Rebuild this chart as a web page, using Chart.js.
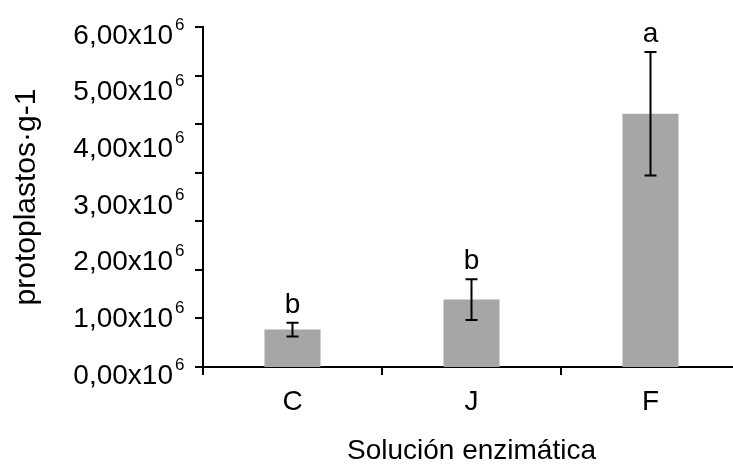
<!DOCTYPE html>
<html>
<head>
<meta charset="utf-8">
<script src="https://cdn.jsdelivr.net/npm/chart.js@4"></script>
<style>
  html, body { margin: 0; padding: 0; background: #fff; overflow: hidden; }
  canvas { display: block; }
</style>
</head>
<body>
<canvas id="protoChart" width="741" height="466"></canvas>
<script>
// datos
const categorias = ['C', 'J', 'F'];
const medias = [0.66e6, 1.19e6, 4.47e6];
const errores = [0.12e6, 0.36e6, 1.09e6];
const letras = ['b', 'b', 'a'];
const yTickLabels = ['0,00x10', '1,00x10', '2,00x10', '3,00x10', '4,00x10', '5,00x10', '6,00x10'];
const exponente = '6';

const fuente = "'Liberation Sans', Arial, sans-serif";

// barras de error y letras de significancia
const errorBars = {
  id: 'errorBars',
  afterDatasetsDraw(chart) {
    const ctx = chart.ctx;
    const y = chart.scales.y;
    const meta = chart.getDatasetMeta(0);
    ctx.save();
    ctx.strokeStyle = '#000';
    ctx.lineWidth = 2;
    meta.data.forEach((bar, i) => {
      const top = y.getPixelForValue(medias[i] + errores[i]);
      const bot = y.getPixelForValue(medias[i] - errores[i]);
      ctx.beginPath();
      ctx.moveTo(bar.x, top);
      ctx.lineTo(bar.x, bot);
      ctx.moveTo(bar.x - 6, top);
      ctx.lineTo(bar.x + 6, top);
      ctx.moveTo(bar.x - 6, bot);
      ctx.lineTo(bar.x + 6, bot);
      ctx.stroke();
      ctx.fillStyle = '#000';
      ctx.font = '28px ' + fuente;
      ctx.textAlign = 'center';
      ctx.textBaseline = 'alphabetic';
      ctx.fillText(letras[i], bar.x, top - 10);
    });
    ctx.restore();
  }
};

// superíndice del exponente en las etiquetas del eje y
const superindice = {
  id: 'superindice',
  afterDraw(chart) {
    const s = chart.scales.y;
    const ctx = chart.ctx;
    const opts = s.options.ticks;
    const right = s.right - (s.options.grid.tickLength + opts.padding);
    ctx.save();
    ctx.fillStyle = '#000';
    ctx.font = '17px ' + fuente;
    ctx.textAlign = 'left';
    ctx.textBaseline = 'middle';
    s.ticks.forEach((t, i) => {
      const cy = s.getPixelForTick(i) + opts.labelOffset;
      ctx.fillText(exponente, right + 2, cy - 11);
    });
    ctx.restore();
  }
};

new Chart(document.getElementById('protoChart'), {
  type: 'bar',
  data: {
    labels: categorias,
    datasets: [{
      data: medias,
      backgroundColor: '#a6a6a6',
      borderWidth: 0,
      barPercentage: 0.313,
      categoryPercentage: 1
    }]
  },
  options: {
    responsive: false,
    animation: false,
    devicePixelRatio: 1,
    layout: { padding: { top: 27, right: 1, bottom: 0, left: 0 } },
    plugins: { legend: { display: false }, tooltip: { enabled: false } },
    scales: {
      x: {
        grid: { drawOnChartArea: false, color: '#000', lineWidth: 2, tickLength: 8 },
        border: { color: '#000', width: 2 },
        ticks: { color: '#000', font: { family: fuente, size: 28 }, padding: 10 },
        title: {
          display: true,
          text: 'Solución enzimática',
          color: '#000',
          font: { family: fuente, size: 28, lineHeight: 1 },
          padding: { top: 0, bottom: 1 }
        },
        afterFit(s) { s.height = 99; }
      },
      y: {
        position: 'left',
        weight: 1,
        min: 0,
        max: 6e6,
        grid: { display: false, tickLength: 20 },
        border: { display: false },
        ticks: {
          stepSize: 1e6,
          color: '#000',
          font: { family: fuente, size: 28 },
          padding: 2,
          labelOffset: 9,
          callback: (v, i) => yTickLabels[i]
        },
        title: {
          display: true,
          text: 'protoplastos·g-1',
          color: '#000',
          font: { family: fuente, size: 30 },
          padding: { top: 9, bottom: 0 }
        },
        afterFit(s) { s.width = 195; }
      },
      yt: {
        position: 'left',
        weight: 0,
        min: 0,
        max: 7,
        grid: { drawOnChartArea: false, color: '#000', lineWidth: 2, tickLength: 8 },
        border: { color: '#000', width: 2 },
        ticks: { display: false, stepSize: 1 }
      }
    }
  },
  plugins: [errorBars, superindice]
});
</script>
</body>
</html>
